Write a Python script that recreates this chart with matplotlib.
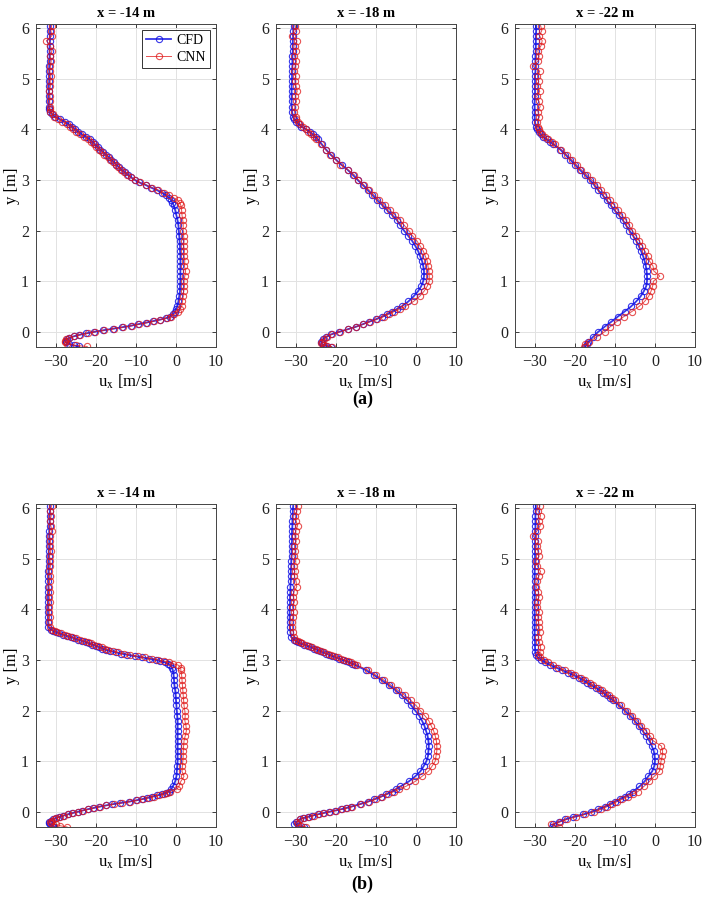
import matplotlib
matplotlib.use('Agg')
import matplotlib.pyplot as plt

plt.rcParams['font.family'] = ['Liberation Serif', 'DejaVu Serif']
plt.rcParams['mathtext.fontset'] = 'stix'

# (a) x = -14 m
y_a14 = [6.05, 5.95, 5.85, 5.75, 5.65, 5.55, 5.45, 5.35, 5.25, 5.15, 5.05, 4.95, 4.85, 4.75, 4.65, 4.55, 4.45,
         4.40, 4.35, 4.30, 4.25, 4.20, 4.15, 4.10, 4.05, 4.00, 3.95, 3.90, 3.85, 3.80, 3.75, 3.70, 3.65, 3.60, 3.55,
         3.50, 3.45, 3.40, 3.35, 3.30, 3.25, 3.20, 3.15, 3.10, 3.05, 3.00, 2.95, 2.90, 2.85, 2.80, 2.75, 2.70, 2.65,
         2.60, 2.55,
         2.5, 2.4, 2.3, 2.2, 2.1, 2.0, 1.9, 1.8, 1.7, 1.6, 1.5, 1.4, 1.3, 1.2, 1.1, 1.0, 0.9, 0.8, 0.7, 0.6, 0.5,
         0.45, 0.4, 0.35, 0.3, 0.27, 0.24, 0.21, 0.18, 0.15, 0.12, 0.09, 0.06, 0.03, 0.0, -0.03, -0.06, -0.09, -0.12,
         -0.15, -0.18, -0.21, -0.24, -0.27, -0.29]
cfd_a14 = [-31.4, -31.5, -31.5, -31.5, -31.6, -31.6, -31.6, -31.6, -31.7, -31.7, -31.7, -31.7, -31.8, -31.8, -31.8,
           -31.8, -31.8,
           -31.7, -31.5, -31.0, -30.3, -29.0, -27.8, -26.8, -25.9, -25.2, -24.4, -23.5, -22.5, -21.5, -20.8, -20.2,
           -19.5, -18.9, -18.2, -17.5, -16.8, -16.2, -15.5, -14.9, -14.2, -13.6, -12.8, -12.0, -11.2, -10.3, -9.2,
           -7.6, -6.3, -4.8, -3.6, -2.6, -1.8, -1.2, -0.9,
           -0.6, -0.2, 0.1, 0.4, 0.6, 0.7, 0.8, 0.9, 1.0, 1.0, 1.1, 1.1, 1.1, 1.1, 1.1, 1.1, 1.0, 1.0, 0.8, 0.6, 0.3,
           0.0, -0.3, -0.7, -1.5, -2.5, -4.0, -5.8, -7.6, -9.5, -11.3, -13.5, -15.8, -18.2, -20.4, -22.4, -24.2,
           -25.6, -26.7, -27.3, -27.6, -27.5, -26.8, -25.5, -24.2]
cnn_a14 = [-31.1, -31.3, -31.0, -32.4, -31.4, -31.0, -31.5, -31.2, -31.4, -31.6, -31.3, -31.5, -31.4, -31.7, -31.5,
           -31.6, -31.4,
           -31.6, -31.4, -30.8, -30.6, -29.5, -28.4, -27.3, -26.4, -25.7, -24.9, -24.1, -23.0, -22.0, -21.3, -20.6,
           -20.0, -19.3, -18.5, -17.9, -17.1, -16.5, -15.8, -15.1, -14.5, -13.8, -13.0, -12.2, -11.3, -10.2, -9.0,
           -7.4, -6.0, -4.4, -3.1, -1.8, -0.6, 0.4, 0.9,
           1.2, 1.4, 1.5, 1.7, 1.8, 1.8, 1.9, 2.0, 1.9, 2.1, 2.0, 2.2, 2.1, 2.4, 2.2, 2.0, 2.1, 1.9, 1.8, 1.6, 1.4,
           1.0, 0.4, -0.4, -1.2, -2.3, -3.9, -5.5, -7.2, -9.2, -11.0, -13.2, -15.6, -18.0, -20.2, -22.1, -24.0,
           -25.5, -26.8, -27.4, -27.7, -27.8, -27.2, -25.0, -22.2]

# (a) x = -18 m
y_a18 = [6.05, 5.95, 5.85, 5.75, 5.65, 5.55, 5.45, 5.35, 5.25, 5.15, 5.05, 4.95, 4.85, 4.75, 4.65, 4.55, 4.45,
         4.35, 4.25,
         4.2, 4.15, 4.1, 4.05, 4.0, 3.95, 3.9, 3.85, 3.8, 3.7, 3.6, 3.5, 3.4, 3.3, 3.2, 3.1, 3.0, 2.9, 2.8, 2.7,
         2.6, 2.5, 2.4, 2.3, 2.2, 2.1, 2.0, 1.9, 1.8, 1.7, 1.6, 1.5, 1.4, 1.3, 1.2, 1.1, 1.0, 0.9, 0.8, 0.7, 0.6, 0.5,
         0.45, 0.4, 0.35, 0.3, 0.25, 0.2, 0.15, 0.1, 0.05, 0.0, -0.05, -0.1, -0.15, -0.2, -0.23, -0.26, -0.28, -0.3]
cfd_a18 = [-30.6, -30.7, -30.7, -30.8, -30.8, -30.8, -30.9, -30.9, -30.9, -31.0, -31.0, -31.0, -31.1, -31.1, -31.1,
           -31.1, -31.1, -31.0, -30.8,
           -30.4, -29.9, -29.3, -28.7, -27.4, -26.6, -25.8, -25.1, -24.5, -23.5, -22.5, -21.3, -20.0, -18.6, -17.1,
           -15.8, -14.6, -13.3, -12.1, -10.9, -9.7, -8.4, -7.2, -5.9, -4.7, -3.9, -3.0, -2.0, -1.0, -0.2, 0.5, 1.0,
           1.5, 1.8, 2.0, 2.0, 1.8, 1.3, 0.5, -0.6, -1.9, -3.6,
           -4.8, -6.0, -7.2, -8.4, -10.0, -11.7, -13.3, -15.0, -17.1, -19.2, -21.2, -22.5, -23.3, -23.7, -23.6,
           -23.2, -22.5, -21.2]
cnn_a18 = [-30.2, -30.0, -30.9, -29.8, -30.3, -30.1, -30.4, -29.9, -30.2, -30.5, -30.1, -30.3, -30.0, -29.7, -30.2,
           -29.9, -30.3, -30.4, -30.1,
           -30.0, -29.6, -29.0, -28.2, -27.6, -26.9, -26.2, -25.5, -24.9, -23.7, -22.6, -21.5, -20.1, -18.9, -17.0,
           -15.4, -14.4, -13.0, -11.7, -10.5, -9.2, -7.8, -6.5, -5.2, -3.9, -2.9, -1.8, -0.9, 0.2, 1.0, 1.8, 2.3,
           2.8, 3.0, 3.2, 3.3, 3.3, 2.8, 2.0, 0.9, -0.6, -2.7,
           -4.0, -5.4, -6.8, -8.1, -9.7, -11.5, -13.2, -15.0, -17.0, -19.0, -21.0, -22.3, -23.0, -23.5, -23.8,
           -23.0, -22.2, -21.0]

# (a) x = -22 m
y_a22 = [6.05, 5.95, 5.85, 5.75, 5.65, 5.55, 5.45, 5.35, 5.25, 5.15, 5.05, 4.95, 4.85, 4.75, 4.65, 4.55, 4.45,
         4.35, 4.25, 4.15, 4.05,
         4.0, 3.95, 3.9, 3.85, 3.8, 3.75, 3.7, 3.6, 3.5, 3.4, 3.3, 3.2, 3.1, 3.0, 2.9, 2.8, 2.7, 2.6, 2.5, 2.4,
         2.3, 2.2, 2.1, 2.0, 1.9, 1.8, 1.7, 1.6, 1.5, 1.4, 1.3, 1.2, 1.1, 1.0, 0.9, 0.8, 0.7, 0.6, 0.5, 0.4, 0.3,
         0.2, 0.1, 0.0, -0.1, -0.2, -0.25, -0.3]
cfd_a22 = [-29.7, -29.7, -29.8, -29.8, -29.8, -29.8, -29.9, -29.9, -29.9, -29.9, -30.0, -30.0, -30.0, -30.0, -30.0,
           -30.1, -30.1, -30.1, -30.1, -30.0, -29.8,
           -29.5, -29.1, -28.6, -28.1, -27.0, -26.2, -25.4, -23.7, -22.4, -21.2, -20.0, -18.8, -17.5, -16.3, -15.2,
           -14.2, -13.1, -12.1, -11.1, -10.1, -9.0, -8.0, -7.2, -6.4, -5.5, -4.7, -4.1, -3.5, -3.0, -2.6, -2.3,
           -2.1, -2.0, -2.0, -2.2, -2.8, -3.6, -4.7, -6.0, -7.6, -9.3, -10.9, -12.6, -14.2, -15.5, -16.7, -17.1,
           -17.5]
cnn_a22 = [-28.6, -28.3, -28.9, -28.2, -28.5, -29.3, -29.0, -29.2, -30.6, -28.8, -29.4, -29.1, -29.5, -28.8, -29.6,
           -29.0, -28.7, -29.3, -28.9, -29.4, -29.2,
           -29.0, -28.8, -28.3, -27.6, -26.8, -25.8, -25.0, -23.4, -22.1, -20.8, -19.6, -18.4, -17.0, -15.8, -14.6,
           -13.4, -12.3, -11.2, -10.2, -9.3, -8.3, -7.2, -6.5, -5.7, -4.8, -4.0, -3.2, -2.6, -1.8, -1.4, -0.5,
           -0.3, 1.2, -0.4, -0.6, -1.0, -1.6, -2.6, -4.0, -5.8, -7.8, -9.6, -11.2, -12.6, -14.6, -16.4, -17.6,
           -17.8]

# (b) x = -14 m
y_b14 = [6.05, 5.95, 5.85, 5.75, 5.65, 5.55, 5.45, 5.35, 5.25, 5.15, 5.05, 4.95, 4.85, 4.75, 4.65, 4.55, 4.45,
         4.35, 4.25, 4.15, 4.05, 3.95, 3.85, 3.75, 3.65,
         3.6, 3.575, 3.55, 3.525, 3.5, 3.475, 3.45, 3.425, 3.4, 3.375, 3.35, 3.325, 3.3, 3.275, 3.25, 3.225, 3.2,
         3.175, 3.15, 3.125, 3.1, 3.075, 3.05, 3.025, 3.0, 2.975, 2.95, 2.925, 2.9, 2.85,
         2.8, 2.7, 2.6, 2.5, 2.4, 2.3, 2.2, 2.1, 2.0, 1.9, 1.8, 1.7, 1.6, 1.5, 1.4, 1.3, 1.2, 1.1, 1.0, 0.9, 0.8,
         0.7, 0.6, 0.5,
         0.45, 0.4, 0.375, 0.35, 0.325, 0.3, 0.275, 0.25, 0.225, 0.2, 0.175, 0.15, 0.125, 0.1, 0.075, 0.05, 0.025,
         0.0, -0.025, -0.05, -0.075, -0.1, -0.125, -0.15, -0.175, -0.2, -0.225, -0.25, -0.275, -0.3]
cfd_b14 = [-31.5, -31.5, -31.6, -31.6, -31.6, -31.7, -31.7, -31.7, -31.7, -31.8, -31.8, -31.8, -31.8, -31.9, -31.9,
           -31.9, -31.9, -31.9, -32.0, -32.0, -32.0, -32.0, -32.0, -32.0, -31.9,
           -31.2, -30.7, -30.0, -29.2, -28.3, -27.3, -26.3, -25.4, -24.6, -23.5, -22.5, -21.7, -20.9, -20.0, -19.2,
           -18.4, -17.6, -16.4, -15.1, -13.7, -12.2, -10.3, -8.5, -6.8, -5.1, -3.9, -2.7, -2.0, -1.4, -1.0,
           -0.8, -0.6, -0.5, -0.4, -0.2, -0.1, 0.0, 0.1, 0.2, 0.3, 0.4, 0.4, 0.4, 0.4, 0.4, 0.4, 0.4, 0.4, 0.4, 0.3,
           0.2, 0.1, -0.2, -0.8,
           -1.2, -1.8, -2.6, -3.5, -4.7, -6.0, -7.2, -8.5, -10.1, -11.8, -13.9, -15.9, -17.6, -19.2, -20.7, -22.1,
           -23.4, -24.6, -25.9, -27.1, -28.2, -29.2, -30.0, -30.8, -31.3, -31.8, -31.8, -31.6, -31.0, -30.4]
cnn_b14 = [-31.1, -31.4, -31.2, -31.5, -31.3, -31.0, -31.6, -31.4, -31.5, -31.3, -31.6, -31.5, -31.4, -31.7, -31.5,
           -31.6, -31.8, -31.6, -31.7, -31.5, -31.8, -31.7, -31.6, -31.8, -31.5,
           -31.0, -30.3, -29.8, -28.8, -27.8, -27.0, -25.9, -25.0, -24.0, -23.1, -22.0, -21.2, -20.4, -19.4, -18.6,
           -17.8, -16.9, -15.8, -14.4, -13.0, -11.5, -9.6, -7.8, -6.0, -4.5, -3.0, -1.8, -0.8, 0.5, 1.2,
           1.2, 1.4, 1.5, 1.6, 1.7, 1.8, 1.9, 2.0, 2.2, 2.3, 2.2, 2.5, 2.6, 2.3, 2.0, 1.9, 1.8, 1.8, 1.7, 1.6,
           1.5, 2.0, 1.2, 0.7,
           0.2, -1.5, -2.2, -3.0, -4.2, -5.5, -6.8, -8.2, -9.8, -11.5, -13.4, -15.5, -17.4, -19.0, -20.5, -22.0,
           -23.3, -24.5, -25.8, -27.0, -28.0, -29.0, -29.9, -30.6, -31.1, -31.5, -31.2, -30.0, -29.0, -27.2]

# (b) x = -18 m
y_b18 = [6.05, 5.95, 5.85, 5.75, 5.65, 5.55, 5.45, 5.35, 5.25, 5.15, 5.05, 4.95, 4.85, 4.75, 4.65, 4.55, 4.45,
         4.35, 4.25, 4.15, 4.05, 3.95, 3.85, 3.75, 3.65, 3.55, 3.45,
         3.4, 3.375, 3.35, 3.325, 3.3, 3.275, 3.25, 3.225, 3.2, 3.175, 3.15, 3.125, 3.1, 3.075, 3.05, 3.025, 3.0,
         2.975, 2.95, 2.925, 2.9,
         2.8, 2.7, 2.6, 2.5, 2.4, 2.3, 2.2, 2.1, 2.0, 1.9, 1.8, 1.7, 1.6, 1.5, 1.4, 1.3, 1.2, 1.1, 1.0, 0.9, 0.8,
         0.7, 0.6, 0.5,
         0.45, 0.4, 0.35, 0.3, 0.25, 0.2, 0.15, 0.1, 0.075, 0.05, 0.025, 0.0, -0.025, -0.05, -0.075, -0.1, -0.125,
         -0.15, -0.2, -0.25, -0.28, -0.3]
cfd_b18 = [-30.7, -30.8, -30.8, -30.9, -30.9, -31.0, -31.0, -31.0, -31.1, -31.1, -31.1, -31.2, -31.2, -31.3, -31.3,
           -31.3, -31.4, -31.4, -31.5, -31.5, -31.5, -31.6, -31.6, -31.6, -31.5, -31.4, -31.2,
           -30.4, -30.0, -29.6, -28.8, -27.9, -27.0, -26.2, -25.5, -24.8, -24.0, -23.3, -22.5, -21.7, -20.9, -20.0,
           -19.2, -18.3, -17.5, -16.7, -15.9, -15.2,
           -12.6, -10.5, -8.6, -6.8, -5.1, -3.6, -2.2, -1.2, -0.2, 0.8, 1.5, 2.1, 2.5, 2.9, 3.1, 3.2, 3.1, 3.0, 2.6,
           1.9, 1.1, -0.2, -1.8, -3.9,
           -5.0, -6.0, -7.4, -8.8, -10.4, -12.1, -14.1, -16.3, -17.5, -18.8, -20.2, -21.7, -23.2, -24.6, -25.9,
           -27.1, -28.2, -29.1, -29.9, -30.4, -29.6, -27.9]
cnn_b18 = [-29.6, -29.8, -30.2, -30.0, -29.6, -30.1, -30.3, -30.0, -30.4, -30.2, -30.5, -30.1, -30.6, -30.3, -30.4,
           -30.0, -29.8, -30.5, -30.7, -30.4, -30.9, -30.6, -30.8, -31.0, -30.9, -30.7, -30.6,
           -30.2, -29.6, -29.1, -28.4, -27.6, -26.7, -25.9, -25.1, -24.4, -23.7, -22.9, -22.0, -21.3, -20.5, -19.6,
           -18.8, -17.9, -17.0, -16.3, -15.4, -14.8,
           -12.0, -10.0, -8.0, -6.2, -4.5, -2.8, -1.3, 0.0, 1.1, 2.2, 3.2, 3.8, 4.4, 4.8, 5.1, 5.2, 5.2, 5.0, 4.8,
           4.0, 3.1, 1.5, -0.2, -2.6,
           -4.2, -5.5, -7.0, -8.5, -10.0, -11.8, -13.8, -16.0, -17.2, -18.5, -20.0, -21.5, -22.9, -24.3, -25.6,
           -26.8, -28.0, -29.0, -29.8, -29.5, -28.8, -27.6]

# (b) x = -22 m
y_b22 = [6.05, 5.95, 5.85, 5.75, 5.65, 5.55, 5.45, 5.35, 5.25, 5.15, 5.05, 4.95, 4.85, 4.75, 4.65, 4.55, 4.45,
         4.35, 4.25, 4.15, 4.05, 3.95, 3.85, 3.75, 3.65, 3.55, 3.45, 3.35, 3.25, 3.15,
         3.1, 3.05, 3.0, 2.95, 2.9, 2.85, 2.8, 2.75, 2.7, 2.65, 2.6, 2.55, 2.5, 2.45, 2.4, 2.35, 2.3, 2.25, 2.2,
         2.1, 2.0, 1.9, 1.8, 1.7, 1.6, 1.5, 1.4, 1.3, 1.2, 1.1, 1.0, 0.9, 0.8, 0.7, 0.6, 0.5,
         0.4, 0.35, 0.3, 0.25, 0.2, 0.15, 0.1, 0.05, 0.0, -0.05, -0.1, -0.15, -0.2, -0.25, -0.3]
cfd_b22 = [-29.8, -29.8, -29.9, -29.9, -29.9, -29.9, -29.9, -30.0, -30.0, -30.0, -30.0, -30.0, -30.0, -30.1, -30.1,
           -30.1, -30.1, -30.1, -30.1, -30.1, -30.1, -30.1, -30.1, -30.1, -30.1, -30.1, -30.1, -30.0, -30.0, -29.9,
           -29.8, -29.3, -28.4, -27.4, -26.2, -24.8, -23.3, -21.8, -20.4, -19.1, -17.9, -16.9, -15.9, -14.8, -13.8,
           -12.9, -12.1, -11.3, -10.5,
           -9.0, -7.6, -6.3, -5.1, -4.1, -3.1, -2.2, -1.4, -0.8, -0.3, -0.1, 0.0, -0.2, -0.7, -1.7, -2.6, -3.9,
           -5.5, -6.5, -7.6, -8.8, -10.1, -11.3, -12.6, -14.2, -15.9, -17.9, -20.4, -22.5, -24.1, -25.4, -25.8]
cnn_b22 = [-28.8, -29.3, -28.6, -29.0, -28.7, -29.5, -30.5, -29.2, -29.6, -29.3, -29.0, -29.8, -29.4, -28.6, -29.1,
           -29.5, -29.7, -29.2, -29.0, -29.4, -29.6, -28.9, -29.3, -29.1, -29.0, -28.8, -29.2, -28.9, -28.6, -28.8,
           -29.2, -28.7, -27.8, -26.8, -25.6, -24.3, -22.6, -21.0, -19.9, -18.6, -17.4, -16.3, -15.4, -14.3, -13.2,
           -12.4, -11.6, -10.8, -10.0,
           -8.5, -7.0, -5.7, -4.5, -3.4, -2.3, -1.2, -0.4, 1.6, 1.9, 1.8, 1.5, 1.3, 1.1, -0.2, -1.4, -2.8,
           -4.3, -5.5, -6.8, -8.2, -9.5, -10.8, -12.0, -13.5, -15.2, -17.4, -19.8, -22.0, -23.8, -26.0, -24.0]

titles = ['x = -14 m', 'x = -18 m', 'x = -22 m']
rows = [
    [(y_a14, cfd_a14, cnn_a14), (y_a18, cfd_a18, cnn_a18), (y_a22, cfd_a22, cnn_a22)],
    [(y_b14, cfd_b14, cnn_b14), (y_b18, cfd_b18, cnn_b18), (y_b22, cfd_b22, cnn_b22)],
]
row_labels = ['(a)', '(b)']

W, H = 708, 917
fig = plt.figure(figsize=(W / 100, H / 100), dpi=100)

lefts = [36, 276, 515]
tops = [24, 504]
aw, ah = 180, 323

for r, row in enumerate(rows):
    for c, (yy, cfd, cnn) in enumerate(row):
        ax = fig.add_axes([lefts[c] / W, 1 - (tops[r] + ah) / H, aw / W, ah / H])
        ax.plot(cfd, yy, '-o', color='#1414e6', lw=1.3, ms=4.5, mew=0.8, mfc='none', alpha=0.85, label='CFD')
        ax.plot(cnn, yy, '-o', color='#e01818', lw=0.7, ms=4.5, mew=0.8, mfc='none', alpha=0.75, label='CNN')
        ax.set_xlim(-35, 10)
        ax.set_ylim(-0.3, 6.08)
        ax.set_xticks([-30, -20, -10, 0, 10])
        ax.set_yticks([0, 1, 2, 3, 4, 5, 6])
        ax.grid(True, color='#e2e2e2', lw=0.7)
        ax.set_axisbelow(True)
        ax.tick_params(direction='in', top=True, right=True, length=3, width=0.6,
                       labelsize=11.5, colors='#222222', pad=5)
        for sp in ax.spines.values():
            sp.set_color('#444444')
            sp.set_linewidth(0.7)
        ax.set_title(titles[c], fontsize=10.5, fontweight='bold', pad=5)
        ax.set_xlabel('u$_\\mathrm{x}$ [m/s]', fontsize=12, labelpad=2)
        ax.set_ylabel('y [m]', fontsize=12, labelpad=1)
        if r == 0 and c == 0:
            leg = ax.legend(loc='upper right', fontsize=10, handlelength=1.8, fancybox=False,
                            borderaxespad=0.4, borderpad=0.3, labelspacing=0.3, handletextpad=0.4)
            leg.get_frame().set_edgecolor('black')
            leg.get_frame().set_linewidth(0.7)
    fig.text(0.512, 1 - [399, 884][r] / H, row_labels[r], ha='center', va='center',
             fontsize=13, fontweight='bold')

fig.savefig('out.png', dpi=100)
